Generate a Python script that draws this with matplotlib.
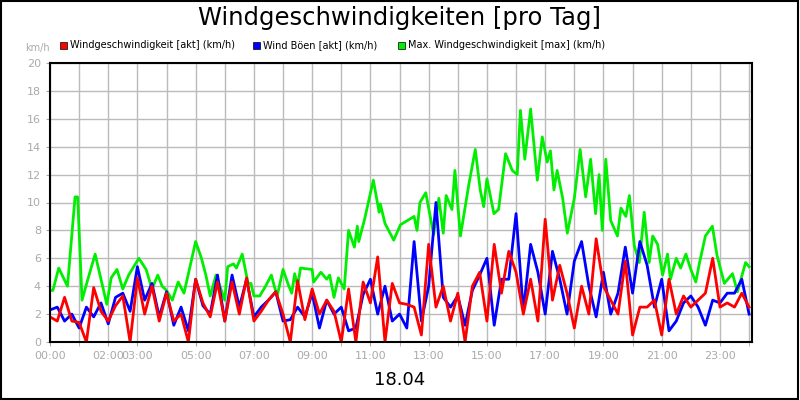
import numpy as np
import matplotlib.pyplot as plt
from matplotlib.patches import Rectangle

# Windgeschwindigkeit [akt] (km/h), 15-Minuten-Werte 00:00..24:00
akt = [1.8, 1.5, 3.2, 1.5, 1.4, 0.0, 3.9, 2.2, 1.5, 2.6, 3.3, 0.0, 4.6, 2.0, 4.0, 1.5,
       3.5, 1.5, 2.0, 0.0, 4.5, 2.8, 1.8, 4.3, 1.5, 4.3, 2.0, 4.6, 1.5, 2.2, 3.0, 3.6,
       2.0, 0.0, 4.4, 1.6, 3.8, 2.0, 3.0, 2.2, 0.0, 3.8, 0.0, 4.3, 2.8, 6.1, 0.0, 4.2,
       2.8, 2.7, 2.5, 0.5, 7.0, 2.5, 4.0, 1.5, 3.5, 0.0, 4.0, 5.0, 1.5, 7.0, 3.5, 6.5,
       5.0, 2.0, 4.5, 1.5, 8.8, 3.0, 5.5, 3.5, 1.0, 4.0, 2.0, 7.4, 4.0, 3.0, 2.0, 5.8,
       0.5, 2.5, 2.5, 3.0, 0.5, 4.5, 2.0, 3.3, 2.5, 3.0, 3.5, 6.0, 2.5, 2.8, 2.5, 3.5,
       2.5]
boeen = [2.3, 2.5, 1.5, 2.0, 1.0, 2.5, 1.8, 2.8, 1.3, 3.2, 3.5, 2.2, 5.4, 3.0, 4.2, 1.8,
         3.6, 1.2, 2.5, 0.8, 4.5, 2.6, 2.0, 4.8, 1.5, 4.8, 2.5, 4.5, 1.8, 2.5, 3.0, 3.6,
         1.5, 1.6, 2.5, 1.8, 3.5, 1.0, 3.0, 2.0, 2.5, 0.8, 1.0, 3.4, 4.5, 2.0, 4.0, 1.5,
         2.0, 1.0, 7.2, 1.5, 4.0, 10.0, 3.2, 2.5, 3.3, 1.2, 3.7, 4.8, 6.0, 1.2, 4.5, 4.5,
         9.2, 2.2, 7.0, 5.0, 2.0, 6.5, 4.5, 2.0, 5.8, 7.2, 4.0, 1.8, 5.0, 2.0, 3.5, 6.8,
         3.5, 7.2, 5.5, 2.5, 4.5, 0.8, 1.5, 2.8, 3.3, 2.5, 1.2, 3.0, 2.8, 3.5, 3.5, 4.5,
         2.0]
max_h = [0.0, 0.1, 0.3, 0.6, 0.86, 0.95, 1.1, 1.3, 1.55, 1.95, 2.1, 2.3, 2.5, 2.7, 3.05,
         3.3, 3.5, 3.7, 3.85, 4.0, 4.2, 4.4, 4.6, 5.0, 5.2, 5.35, 5.5, 5.7, 6.0, 6.1, 6.3,
         6.4, 6.6, 6.8, 6.9, 7.0, 7.2, 7.4, 7.6, 7.7, 7.8, 8.0, 8.2, 8.3, 8.4, 8.5, 8.6,
         9.0, 9.05, 9.3, 9.5, 9.6, 9.75, 9.9, 10.1, 10.25, 10.45, 10.55, 10.6, 10.8, 11.1,
         11.3, 11.34, 11.5, 11.8, 12.03, 12.5, 12.6, 12.7, 12.9, 13.17, 13.35, 13.5, 13.6,
         13.8, 13.9, 14.09, 14.38, 14.6, 14.77, 14.89, 15.0, 15.24, 15.4, 15.64, 15.87,
         16.04, 16.15, 16.3, 16.5, 16.73, 16.9, 17.07, 17.18, 17.3, 17.41, 17.6, 17.76,
         18.0, 18.2, 18.39, 18.56, 18.73, 18.85, 18.96, 19.08, 19.25, 19.48, 19.6, 19.77,
         19.89, 20.06, 20.23, 20.4, 20.57, 20.69, 20.86, 21.03, 21.2, 21.3, 21.5, 21.65,
         21.83, 22.0, 22.17, 22.3, 22.5, 22.74, 22.9, 23.15, 23.43, 23.6, 23.88, 24.0]
max_v = [3.7, 3.7, 5.3, 4.0, 10.4, 10.4, 3.0, 4.5, 6.3, 2.7, 4.6, 5.2, 3.8, 4.8, 6.0,
         5.2, 3.8, 4.8, 4.0, 3.7, 3.0, 4.3, 3.5, 7.2, 6.0, 4.8, 3.3, 4.8, 3.0, 5.4, 5.6,
         5.3, 6.3, 4.2, 4.2, 3.3, 3.3, 4.0, 4.8, 4.0, 3.3, 5.2, 4.0, 3.5, 4.9, 4.0, 5.3,
         5.2, 4.3, 5.0, 4.5, 4.8, 3.2, 4.6, 3.8, 8.0, 6.8, 8.3, 7.2, 8.8, 11.6, 9.3, 9.9,
         8.5, 7.3, 8.4, 9.0, 8.0, 10.0, 10.7, 7.7, 10.3, 7.8, 10.5, 9.5, 12.3, 7.6, 11.3,
         13.8, 10.9, 9.7, 11.7, 9.2, 9.5, 13.5, 12.3, 12.0, 16.6, 13.1, 16.7, 11.6, 14.7,
         12.9, 13.7, 10.9, 12.3, 10.3, 7.8, 10.3, 13.8, 10.4, 13.1, 9.2, 12.0, 8.0, 13.1,
         8.7, 7.6, 9.6, 9.0, 10.5, 6.9, 5.7, 9.3, 5.7, 7.6, 7.0, 4.8, 6.3, 4.5, 6.0, 5.3,
         6.3, 5.2, 4.3, 5.7, 7.6, 8.3, 6.2, 4.2, 4.9, 3.6, 5.7, 5.4]
tick_hours = [0, 2, 3, 5, 7, 9, 11, 13, 15, 17, 19, 21, 23]

fig = plt.figure(figsize=(8, 4), dpi=100)
fig.patches.append(Rectangle((0.001, 0.002), 0.997, 0.995, transform=fig.transFigure,
                             fill=False, edgecolor='black', lw=1.5))
ax = fig.add_axes([50 / 800, 1 - 342 / 400, 702 / 800, 279 / 400])

t = np.linspace(0, 24, len(akt))
tb = np.linspace(0, 24, len(boeen))
ax.plot(max_h, max_v, color='#00ee00', lw=2)
ax.plot(tb, boeen, color='#0000ff', lw=2)
ax.plot(t, akt, color='#ff0000', lw=2)

ax.set_xlim(0, 24.1)
ax.set_ylim(0, 20)
ax.set_yticks(range(0, 21, 2))
ax.set_xticks(range(0, 25), minor=True)
ax.set_xticks(tick_hours)
ax.set_xticklabels(['%02d:00' % h for h in tick_hours])
ax.grid(True, which='both', axis='x', color='#bbbbbb', lw=1)
ax.grid(True, axis='y', color='#bbbbbb', lw=1)
ax.set_axisbelow(True)
ax.tick_params(which='both', colors='#aaaaaa', labelsize=8, length=3)
for s in ax.spines.values():
    s.set_color('black')
    s.set_linewidth(1.5)

fig.text(0.5, 0.955, 'Windgeschwindigkeiten [pro Tag]', ha='center', va='center', fontsize=17.5)
fig.text(25 / 800, 1 - 48 / 400, 'km/h', fontsize=7, color='#aaaaaa', va='center')
fig.text(0.5, 1 - 380 / 400, '18.04', ha='center', va='center', fontsize=13)
legend = [('#ff0000', 'Windgeschwindigkeit [akt] (km/h)', 60),
          ('#0000ff', 'Wind Böen [akt] (km/h)', 253),
          ('#00ee00', 'Max. Windgeschwindigkeit [max] (km/h)', 398)]
for col, lab, x in legend:
    fig.patches.append(Rectangle((x / 800, 1 - 49 / 400), 7 / 800, 7 / 400,
                                 transform=fig.transFigure, facecolor=col,
                                 edgecolor='black', lw=0.5))
    fig.text((x + 10) / 800, 1 - 45 / 400, lab, fontsize=7, va='center')

fig.savefig('out.png', dpi=100)
